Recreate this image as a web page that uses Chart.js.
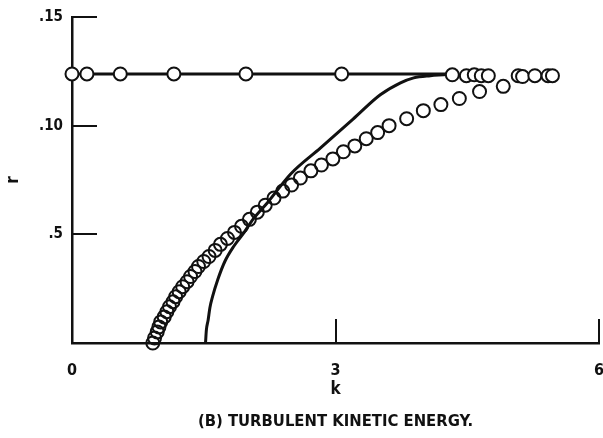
<!DOCTYPE html>
<html><head><meta charset="utf-8">
<script src="https://cdn.jsdelivr.net/npm/chart.js@4"></script>
<style>html,body{margin:0;padding:0;background:#fff}#wrap{width:603px;height:438px}</style>
</head><body><div id="wrap"><canvas id="c" width="603" height="438"></canvas></div>
<script>
// Open circles lying on the upper line
const upperK = [0, 0.17, 0.55, 1.16, 1.98, 3.07, 4.33, 4.49, 4.58, 4.66, 4.74, 5.08, 5.13, 5.27, 5.42, 5.47];
const upperR = [0.1238, 0.1238, 0.1238, 0.1238, 0.1238, 0.1238, 0.1234, 0.1230, 0.1234, 0.1230, 0.1230, 0.1230, 0.1226, 0.1230, 0.1230, 0.1230];
// Open circles of the rising curve
const curveK = [0.92, 0.94, 0.97, 0.99, 1.01, 1.05, 1.08, 1.11, 1.15, 1.18, 1.22, 1.26, 1.31, 1.35, 1.40, 1.44, 1.50, 1.56, 1.63, 1.69, 1.77, 1.85, 1.93, 2.02, 2.11, 2.20, 2.30, 2.40, 2.50, 2.60, 2.72, 2.84, 2.97, 3.09, 3.22, 3.35, 3.48, 3.61, 3.81, 4.00, 4.20, 4.41, 4.64, 4.91];
const curveR = [0.0000, 0.0023, 0.0051, 0.0074, 0.0097, 0.0120, 0.0144, 0.0167, 0.0190, 0.0213, 0.0236, 0.0259, 0.0282, 0.0306, 0.0329, 0.0352, 0.0375, 0.0398, 0.0426, 0.0454, 0.0481, 0.0509, 0.0537, 0.0569, 0.0602, 0.0634, 0.0667, 0.0699, 0.0727, 0.0759, 0.0792, 0.0819, 0.0847, 0.0880, 0.0907, 0.0940, 0.0968, 0.1000, 0.1032, 0.1069, 0.1097, 0.1125, 0.1157, 0.1181];
// Solid horizontal line
const lineAK = [0, 4.33];
const lineAR = [0.1238, 0.1238];
// Solid curve
const lineBK = [1.52, 1.53, 1.55, 1.57, 1.60, 1.66, 1.74, 1.84, 1.96, 2.06, 2.23, 2.49, 2.83, 3.20, 3.51, 3.74, 3.89, 4.08, 4.27, 4.33];
const lineBR = [0.0000, 0.0060, 0.0106, 0.0162, 0.0213, 0.0292, 0.0375, 0.0444, 0.0509, 0.0569, 0.0648, 0.0778, 0.0898, 0.1030, 0.1142, 0.1197, 0.1220, 0.1230, 0.1235, 0.1238];
// Axis ticks
const xTickValues = [0, 3, 6];
const xTickLabels = ['0', '3', '6'];
const yTickValues = [0.05, 0.10, 0.15];
const yTickLabels = ['.5', '.10', '.15'];
const xTitle = 'k';
const yTitle = 'r';
const caption = '(B) TURBULENT KINETIC ENERGY.';

const pts = (xs, ys) => xs.map((x, i) => ({x: x, y: ys[i]}));
const FONT = "'Liberation Sans Narrow', 'DejaVu Sans Condensed', sans-serif";
const INK = '#111';

const extras = {
  id: 'extras',
  afterDatasetsDraw(chart) {
    const {ctx, scales: {x, y}, chartArea: a} = chart;
    ctx.save();
    ctx.strokeStyle = INK;
    ctx.lineWidth = 2;
    yTickValues.forEach(v => {
      const py = Math.round(y.getPixelForValue(v));
      ctx.beginPath(); ctx.moveTo(a.left, py); ctx.lineTo(a.left + 25, py); ctx.stroke();
    });
    xTickValues.forEach(v => {
      const px = Math.round(x.getPixelForValue(v));
      ctx.beginPath(); ctx.moveTo(px, a.bottom); ctx.lineTo(px, a.bottom - 24); ctx.stroke();
    });
    // caption, centred under the plot area
    ctx.fillStyle = INK;
    ctx.font = "bold 16.5px " + FONT;
    ctx.textAlign = 'center';
    ctx.textBaseline = 'middle';
    ctx.fillText(caption, (a.left + a.right) / 2, 422);
    ctx.restore();
  }
};

new Chart(document.getElementById('c'), {
  type: 'scatter',
  data: {
    datasets: [
      {data: pts(upperK, upperR), pointRadius: 6.5, pointBorderWidth: 2, pointBorderColor: INK, pointBackgroundColor: '#fff', showLine: false},
      {data: pts(curveK, curveR), pointRadius: 6.5, pointBorderWidth: 2, pointBorderColor: INK, pointBackgroundColor: 'rgba(0,0,0,0)', showLine: false},
      {data: pts(lineAK, lineAR), showLine: true, pointRadius: 0, borderColor: INK, borderWidth: 3},
      {data: pts(lineBK, lineBR), showLine: true, pointRadius: 0, borderColor: INK, borderWidth: 3, cubicInterpolationMode: 'monotone'}
    ]
  },
  options: {
    responsive: false,
    animation: false,
    clip: false,
    layout: {autoPadding: false, padding: {left: 0, right: 4, top: 17, bottom: 0}},
    plugins: {
      legend: {display: false},
      tooltip: {enabled: false},
      title: {display: false}
    },
    scales: {
      x: {
        type: 'linear', min: 0, max: 6,
        afterFit(s) { s.height = 95; s.paddingRight = 0; s.paddingLeft = 0; },
        afterBuildTicks(s) { s.ticks = xTickValues.map(v => ({value: v})); },
        ticks: {callback: (v) => xTickLabels[xTickValues.indexOf(v)], color: INK, padding: 18, maxRotation: 0,
          font: {family: FONT, size: 16, weight: 'bold'}},
        grid: {display: false, drawTicks: false},
        border: {display: true, color: INK, width: 2.5},
        title: {display: true, text: xTitle, color: INK, font: {family: FONT, size: 17, weight: 'bold'}, padding: {top: 0, bottom: 38}}
      },
      y: {
        type: 'linear', min: 0, max: 0.15,
        afterFit(s) { s.width = 72; s.paddingTop = 0; s.paddingBottom = 0; },
        afterBuildTicks(s) { s.ticks = yTickValues.map(v => ({value: v})); },
        ticks: {callback: (v) => yTickLabels[yTickValues.findIndex(t => Math.abs(t - v) < 1e-9)], color: INK, padding: 9,
          font: {family: FONT, size: 15, weight: 'bold'}},
        grid: {display: false, drawTicks: false},
        border: {display: true, color: INK, width: 2.5},
        title: {display: true, text: yTitle, color: INK, font: {family: FONT, size: 17, weight: 'bold'}, padding: {top: 3, bottom: 0}}
      }
    }
  },
  plugins: [extras]
});
</script></body></html>
